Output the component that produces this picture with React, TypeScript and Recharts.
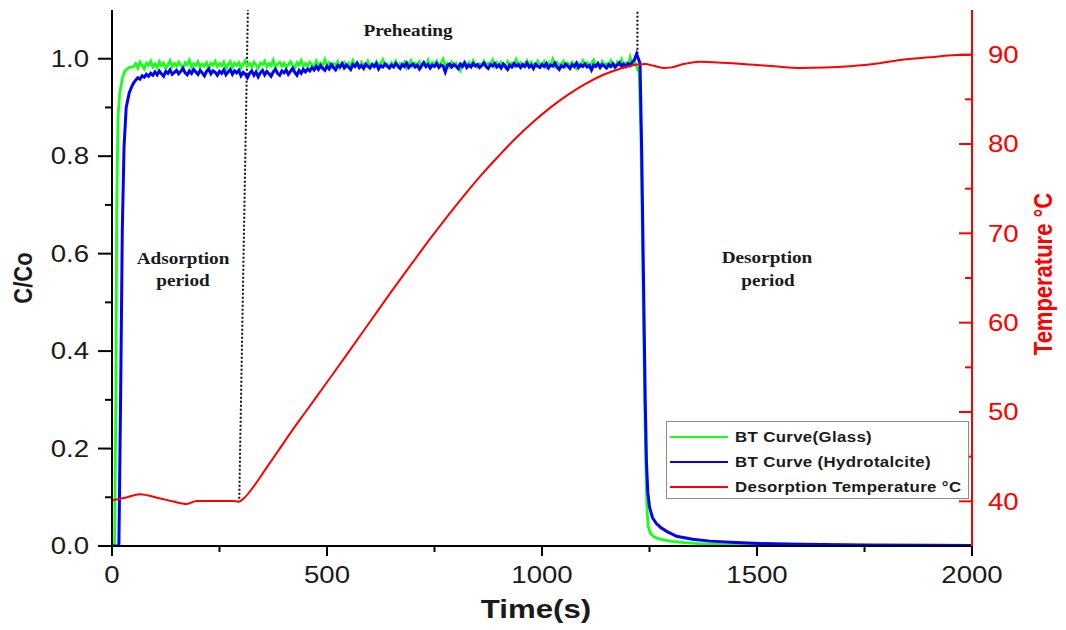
import {
	Customized,
	Legend,
	Line,
	LineChart,
	ReferenceLine,
	XAxis,
	YAxis,
	type LegendPayload,
} from "recharts"

// plateau readings are logged every 5 s
const SAMPLE_STEP = 5

// C/Co for the glass bed
const glassRiseTimes = [0, 6, 9, 11, 14, 18, 24, 30, 40]
const glassRiseValues = [0, 0, 0.3, 0.7, 0.88, 0.93, 0.96, 0.975, 0.982]
const glassPlateauStart = 50
const glassPlateau = [
	0.984, 0.99, 0.981, 0.993, 0.986, 0.979, 0.991, 0.987, 0.995, 0.983,
	0.989, 0.982, 0.994, 0.986, 0.991, 0.98, 0.988, 0.996, 0.984, 0.99,
	0.985, 0.993, 0.987, 0.981, 0.992, 0.988, 0.997, 0.983, 0.99, 0.986,
	0.994, 0.982, 0.989, 0.985, 0.992, 0.98, 0.991, 0.987, 0.995, 0.984,
	0.99, 0.986, 0.993, 0.979, 0.988, 0.994, 0.983, 0.991, 0.986, 0.992,
	0.981, 0.989, 0.996, 0.985, 0.99, 0.983, 0.993, 0.987, 0.98, 0.991,
	0.988, 0.995, 0.984, 0.99, 0.986, 0.997, 0.982, 0.989, 0.993, 0.985,
	0.991, 0.983, 0.988, 0.994, 0.986, 0.98, 0.992, 0.987, 0.996, 0.984,
	0.99, 0.985, 0.993, 0.988, 0.982, 0.995, 0.986, 0.991, 0.984, 0.998,
	0.987, 0.992, 0.983, 0.99, 0.986, 0.994, 0.981, 0.989, 0.993, 0.985,
	0.991, 0.984, 0.996, 0.987, 0.99, 0.982, 0.993, 0.988, 0.985, 0.995,
	0.983, 0.99, 0.987, 0.994, 0.985, 0.991, 0.998, 0.986, 0.989, 0.982,
	0.992, 0.987, 0.995, 0.984, 0.99, 0.986, 0.993, 0.981, 0.989, 0.996,
	0.985, 0.991, 0.988, 0.994, 0.983, 0.99, 0.986, 0.997, 0.984, 0.992,
	0.988, 0.995, 0.986, 0.991, 0.999, 0.985, 0.99, 0.983, 0.993, 0.987,
	0.991, 0.984, 0.976, 0.989, 0.994, 0.986, 0.992, 0.985, 0.996, 0.988,
	0.983, 0.99, 0.987, 0.995, 0.985, 0.991, 0.988, 0.997, 0.984, 0.992,
	0.986, 0.993, 0.989, 0.982, 0.994, 0.987, 0.991, 0.985, 0.998, 0.988,
	0.992, 0.985, 0.99, 0.996, 0.986, 0.993, 0.988, 0.984, 0.995, 0.989,
	0.987, 0.994, 0.983, 0.991, 0.988, 0.999, 0.985, 0.992, 0.986, 0.99,
	0.995, 0.984, 0.991, 0.987, 0.993, 0.986, 0.98, 0.99, 0.985, 0.996,
	0.988, 0.992, 0.984, 0.99, 0.997, 0.986, 0.991, 0.983, 0.994, 0.987,
	0.99, 0.985, 0.996, 0.988, 0.981, 0.993, 0.987, 0.998, 0.984, 0.991,
	0.986, 1.003, 0.988, 0.994, 0.985,
]
const glassDropTimes = [
	1226, 1230, 1234, 1238, 1241, 1244, 1247, 1252, 1259, 1270, 1285, 1298,
	1330, 1367, 1430, 1500, 1700, 2000,
]
const glassDropValues = [
	0.97, 0.85, 0.6, 0.35, 0.18, 0.08, 0.04, 0.026, 0.02, 0.015, 0.012, 0.01,
	0.007, 0.005, 0.003, 0.002, 0.001, 0,
]

// C/Co for the hydrotalcite bed
const hydroRiseTimes = [0, 16, 20, 24, 28, 33, 40, 46]
const hydroRiseValues = [0, 0, 0.3, 0.65, 0.82, 0.9, 0.93, 0.943]
const hydroPlateauStart = 50
const hydroPlateau = [
	0.95, 0.956, 0.961, 0.958, 0.965, 0.962, 0.968, 0.964, 0.97, 0.966,
	0.973, 0.967, 0.975, 0.969, 0.964, 0.974, 0.97, 0.977, 0.968, 0.972,
	0.976, 0.969, 0.974, 0.98, 0.971, 0.967, 0.975, 0.97, 0.978, 0.973,
	0.968, 0.976, 0.971, 0.965, 0.974, 0.979, 0.969, 0.975, 0.972, 0.966,
	0.974, 0.97, 0.977, 0.967, 0.973, 0.978, 0.968, 0.975, 0.971, 0.976,
	0.965, 0.972, 0.968, 0.961, 0.97, 0.975, 0.966, 0.973, 0.963, 0.971,
	0.976, 0.967, 0.974, 0.969, 0.964, 0.973, 0.978, 0.97, 0.966, 0.975,
	0.971, 0.977, 0.968, 0.974, 0.98, 0.972, 0.966, 0.976, 0.97, 0.978,
	0.973, 0.979, 0.975, 0.982, 0.977, 0.984, 0.978, 0.986, 0.98, 0.976,
	0.985, 0.979, 0.988, 0.982, 0.977, 0.986, 0.983, 0.99, 0.981, 0.987,
	0.983, 0.978, 0.988, 0.984, 0.991, 0.982, 0.986, 0.98, 0.989, 0.985,
	0.981, 0.988, 0.984, 0.99, 0.979, 0.986, 0.983, 0.989, 0.985, 0.981,
	0.987, 0.983, 0.99, 0.985, 0.98, 0.988, 0.984, 0.991, 0.982, 0.986,
	0.989, 0.983, 0.987, 0.979, 0.986, 0.992, 0.984, 0.988, 0.981, 0.987,
	0.984, 0.99, 0.982, 0.987, 0.985, 0.973, 0.986, 0.989, 0.983, 0.988,
	0.985, 0.98, 0.989, 0.984, 0.991, 0.982, 0.987, 0.983, 0.99, 0.985,
	0.988, 0.982, 0.986, 0.991, 0.984, 0.98, 0.988, 0.985, 0.99, 0.983,
	0.987, 0.981, 0.989, 0.984, 0.978, 0.987, 0.983, 0.99, 0.985, 0.988,
	0.982, 0.988, 0.984, 0.991, 0.983, 0.987, 0.98, 0.989, 0.985, 0.982,
	0.988, 0.984, 0.99, 0.981, 0.987, 0.985, 0.991, 0.983, 0.978, 0.986,
	0.983, 0.989, 0.985, 0.98, 0.988, 0.984, 0.991, 0.982, 0.987, 0.984,
	0.989, 0.983, 0.986, 0.977, 0.987, 0.984, 0.99, 0.982, 0.988, 0.985,
	0.981, 0.988, 0.984, 0.99, 0.983, 0.987, 0.992, 0.985, 0.989, 0.984,
	0.99, 0.986, 0.993, 0.998, 1.01,
]
const hydroDropTimes = [
	1228, 1232, 1236, 1240, 1243, 1246, 1250, 1257, 1266, 1276, 1290, 1313,
	1350, 1391, 1450, 1507, 1600, 1750, 1900, 2000,
]
const hydroDropValues = [
	0.99, 0.8, 0.55, 0.3, 0.17, 0.11, 0.08, 0.058, 0.046, 0.038, 0.03, 0.02,
	0.014, 0.01, 0.007, 0.005, 0.0035, 0.002, 0.0015, 0.001,
]

// desorption temperature, °C
const tempTimes = [
	0, 30, 65, 110, 140, 174, 197, 240, 282, 294, 310, 330, 360, 390, 420, 450,
	480, 510, 550, 600, 650, 700, 740, 780, 820, 860, 900, 940, 980, 1020, 1060,
	1100, 1140, 1180, 1220, 1240, 1260, 1285, 1298, 1330, 1367, 1420, 1484,
	1540, 1600, 1660, 1716, 1780, 1833, 1900, 1964, 2000,
]
const tempValues = [
	40.1, 40.4, 40.8, 40.35, 40.0, 39.7, 40.05, 40.05, 40.05, 39.95, 40.5, 41.7,
	43.8, 45.9, 48.0, 50.0, 52.0, 54.0, 56.7, 60.1, 63.5, 66.8, 69.4, 71.9, 74.3,
	76.6, 78.7, 80.7, 82.5, 84.1, 85.5, 86.7, 87.7, 88.4, 88.9, 88.95, 88.75,
	88.5, 88.55, 88.95, 89.2, 89.1, 88.9, 88.7, 88.5, 88.55, 88.7, 89.0, 89.4,
	89.7, 89.95, 90.0,
]

const timeTicks = [0, 250, 500, 750, 1000, 1250, 1500, 1750, 2000]
const ratioTicks = [0, 0.1, 0.2, 0.3, 0.4, 0.5, 0.6, 0.7, 0.8, 0.9, 1.0]
const tempTicks = [40, 45, 50, 55, 60, 65, 70, 75, 80, 85, 90]

const GLASS_NAME = "BT Curve(Glass)"
const HYDRO_NAME = "BT Curve (Hydrotalcite)"
const TEMP_NAME = "Desorption Temperature °C"
const legendOrder = [GLASS_NAME, HYDRO_NAME, TEMP_NAME]

type Point = { time: number; value: number }

const paired = (times: number[], values: number[]): Point[] =>
	times.map((time, i) => ({ time, value: values[i] }))

const sampled = (start: number, values: number[]): Point[] =>
	values.map((value, i) => ({ time: start + i * SAMPLE_STEP, value }))

const glassData = [
	...paired(glassRiseTimes, glassRiseValues),
	...sampled(glassPlateauStart, glassPlateau),
	...paired(glassDropTimes, glassDropValues),
]
const hydroData = [
	...paired(hydroRiseTimes, hydroRiseValues),
	...sampled(hydroPlateauStart, hydroPlateau),
	...paired(hydroDropTimes, hydroDropValues),
]
const tempData = paired(tempTimes, tempValues)

const WIDTH = 1066
const HEIGHT = 630
const SANS = '"Liberation Sans", Arial, sans-serif'
const SERIF = '"Liberation Serif", "Times New Roman", serif'
const STRETCH = 1.2
const INK = "#1a1a1a"
const RED = "#ff0000"

type TickProps = { x: number; y: number; payload: { value: number } }

const LeftTick = ({ x, y, payload }: TickProps) => {
	const major = Math.round(payload.value * 10) % 2 === 0
	return (
		<g>
			<line x1={x - (major ? 14 : 7)} x2={x} y1={y} y2={y} stroke='#000' strokeWidth={2} />
			{major && (
				<text
					transform={`translate(${x - 23},${y}) scale(${STRETCH},1)`}
					textAnchor='end'
					dy='0.36em'
					fontFamily={SANS}
					fontSize={23}
					fill={INK}
				>
					{payload.value.toFixed(1)}
				</text>
			)}
		</g>
	)
}

const RightTick = ({ x, y, payload }: TickProps) => {
	const major = payload.value % 10 === 0
	return (
		<g>
			<line x1={x - (major ? 13 : 7)} x2={x} y1={y} y2={y} stroke={RED} strokeWidth={2} />
			{major && (
				<text
					transform={`translate(${x + 16},${y}) scale(${STRETCH},1)`}
					textAnchor='start'
					dy='0.36em'
					fontFamily={SANS}
					fontSize={23}
					fill={RED}
				>
					{payload.value}
				</text>
			)}
		</g>
	)
}

const BottomTick = ({ x, y, payload }: TickProps) => {
	const major = payload.value % 500 === 0
	return (
		<g>
			<line x1={x} x2={x} y1={y} y2={y + (major ? 10 : 6)} stroke='#000' strokeWidth={2} />
			{major && (
				<text
					transform={`translate(${x},${y + 37}) scale(${STRETCH},1)`}
					textAnchor='middle'
					fontFamily={SANS}
					fontSize={23}
					fill={INK}
				>
					{payload.value}
				</text>
			)}
		</g>
	)
}

const TopTick = ({ x, y, payload }: TickProps) => {
	const major = payload.value % 500 === 0
	return <line x1={x} x2={x} y1={y} y2={y + (major ? 9 : 5)} stroke='#222' strokeWidth={2} />
}

const Caption = ({
	x,
	y,
	children,
	size = 16,
	fill = INK,
	family = SERIF,
	vertical = false,
}: {
	x: number
	y: number
	children: string
	size?: number
	fill?: string
	family?: string
	vertical?: boolean
}) => (
	<text
		transform={`translate(${x},${y}) scale(${STRETCH},1)${vertical ? " rotate(-90)" : ""}`}
		textAnchor='middle'
		fontFamily={family}
		fontWeight='bold'
		fontSize={size}
		fill={fill}
	>
		{children}
	</text>
)

const Annotations = () => (
	<g>
		<Caption x={32} y={278} size={22} family={SANS} vertical>
			C/Co
		</Caption>
		<Caption x={1052} y={274} size={22} family={SANS} fill={RED} vertical>
			Temperature °C
		</Caption>
		<Caption x={536} y={618} size={26} family={SANS}>
			Time(s)
		</Caption>
		<Caption x={183} y={264}>Adsorption</Caption>
		<Caption x={183} y={286}>period</Caption>
		<Caption x={408} y={36}>Preheating</Caption>
		<Caption x={767} y={263}>Desorption</Caption>
		<Caption x={768} y={286}>period</Caption>
	</g>
)

const renderLegend = ({ payload }: { payload?: LegendPayload[] }) => {
	const entries = [...(payload ?? [])].sort(
		(a, b) =>
			legendOrder.indexOf(String(a.value)) - legendOrder.indexOf(String(b.value)),
	)
	return (
		<div
			style={{
				width: 303,
				height: 78,
				boxSizing: "border-box",
				border: "1.5px solid #8c8c8c",
				background: "#fff",
				padding: "2px 0 0 3px",
			}}
		>
			{entries.map((entry) => (
				<div
					key={String(entry.value)}
					style={{ display: "flex", alignItems: "center", height: 25 }}
				>
					<span style={{ width: 58, height: 2, background: entry.color }} />
					<span
						style={{
							marginLeft: 7,
							fontFamily: SANS,
							fontWeight: "bold",
							fontSize: 14,
							color: INK,
							whiteSpace: "nowrap",
							letterSpacing: 0.3,
							transform: `scaleX(${STRETCH})`,
							transformOrigin: "left center",
						}}
					>
						{entry.value}
					</span>
				</div>
			))}
		</div>
	)
}

export default function App() {
	return (
		<div
			style={{
				position: "absolute",
				left: 0,
				top: 0,
				width: WIDTH,
				height: HEIGHT,
				background: "#fff",
			}}
		>
			<LineChart
				width={WIDTH}
				height={HEIGHT}
				margin={{ top: 10, right: 34, bottom: 44, left: 52 }}
			>
				<XAxis
					dataKey='time'
					type='number'
					domain={[0, 2000]}
					ticks={timeTicks}
					interval={0}
					allowDataOverflow
					height={40}
					tickSize={0}
					tickMargin={0}
					axisLine={{ stroke: "#000", strokeWidth: 2 }}
					tickLine={false}
					tick={BottomTick}
				/>
				<XAxis
					xAxisId='top'
					orientation='top'
					type='number'
					domain={[0, 2000]}
					ticks={timeTicks}
					interval={0}
					allowDataOverflow
					height={0}
					tickSize={0}
					tickMargin={0}
					axisLine={{ stroke: "#222", strokeWidth: 2 }}
					tickLine={false}
					tick={TopTick}
				/>
				<YAxis
					yAxisId='ratio'
					type='number'
					domain={[0, 1.1]}
					ticks={ratioTicks}
					interval={0}
					allowDataOverflow
					width={60}
					tickSize={0}
					tickMargin={0}
					axisLine={{ stroke: "#000", strokeWidth: 2 }}
					tickLine={false}
					tick={LeftTick}
				/>
				<YAxis
					yAxisId='temp'
					orientation='right'
					type='number'
					domain={[35, 95]}
					ticks={tempTicks}
					interval={0}
					allowDataOverflow
					width={60}
					tickSize={0}
					tickMargin={0}
					axisLine={{ stroke: RED, strokeWidth: 2 }}
					tickLine={false}
					tick={RightTick}
				/>
				<ReferenceLine
					yAxisId='ratio'
					segment={[
						{ x: 296, y: 0.097 },
						{ x: 316, y: 1.1 },
					]}
					stroke='#111'
					strokeWidth={2}
					strokeDasharray='2 2'
				/>
				<ReferenceLine
					yAxisId='ratio'
					segment={[
						{ x: 1222, y: 1.01 },
						{ x: 1222, y: 1.1 },
					]}
					stroke='#111'
					strokeWidth={2}
					strokeDasharray='2 2'
				/>
				<Line
					yAxisId='ratio'
					data={glassData}
					dataKey='value'
					name={GLASS_NAME}
					type='linear'
					stroke='#19ff19'
					strokeWidth={2.8}
					dot={false}
					activeDot={false}
					isAnimationActive={false}
				/>
				<Line
					yAxisId='ratio'
					data={hydroData}
					dataKey='value'
					name={HYDRO_NAME}
					type='linear'
					stroke='#0000ff'
					strokeWidth={3}
					dot={false}
					activeDot={false}
					isAnimationActive={false}
				/>
				<Line
					yAxisId='temp'
					data={tempData}
					dataKey='value'
					name={TEMP_NAME}
					type='monotone'
					stroke={RED}
					strokeWidth={2}
					dot={false}
					activeDot={false}
					isAnimationActive={false}
				/>
				<Legend
					layout='vertical'
					align='center'
					verticalAlign='middle'
					content={renderLegend}
					wrapperStyle={{ left: 666, top: 421, width: 303 }}
				/>
				<Customized component={Annotations} />
			</LineChart>
		</div>
	)
}
